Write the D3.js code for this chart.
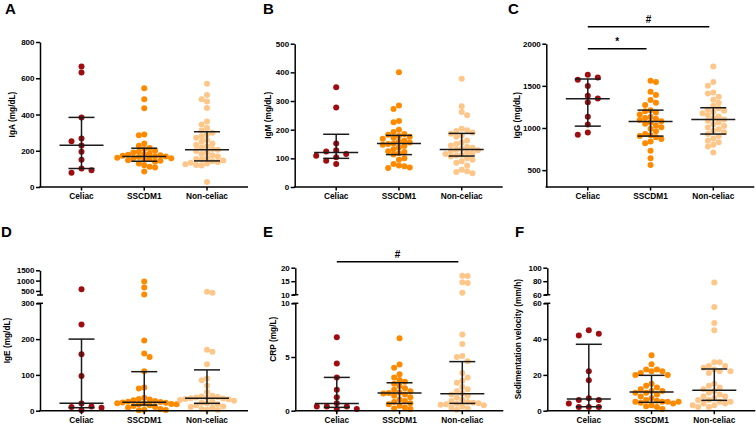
<!DOCTYPE html>
<html>
<head>
<meta charset="utf-8">
<script src="https://cdn.jsdelivr.net/npm/d3@7"></script>
<style>
  body { margin: 0; background: #fff; }
  svg { display: block; font-family: "Liberation Sans", Arial, sans-serif; font-weight: bold; }
</style>
</head>
<body>
<svg id="chart" width="756" height="425"></svg>
<script>
// groups shared by all six panels
const groups = ['Celiac', 'SSCDM1', 'Non-celiac'];
const groupColors = ['#a00d10', '#ff8a00', '#ffc689'];

// A - IgA
const igaCeliac = [665, 632, 384, 268, 253, 229, 194, 151, 102, 92, 79];
const igaSscdm1 = [545, 484, 434, 290, 285, 240, 228, 215, 210, 200, 195, 190, 185, 180, 178, 175, 172, 170, 168, 165, 162, 160, 158, 155, 150, 148, 145, 140, 130, 120, 112, 108, 85];
const igaNonceliac = [570, 508, 484, 472, 436, 362, 345, 325, 312, 300, 290, 280, 272, 260, 250, 240, 232, 225, 218, 210, 205, 198, 190, 182, 175, 168, 160, 155, 150, 146, 142, 138, 134, 130, 126, 122, 118, 28];
const igaMedian = [230, 168, 205];
const igaQ1 = [102, 142, 144];
const igaQ3 = [384, 214, 305];
const igaTicks = [0, 200, 400, 600, 800];

// B - IgM
const igmCeliac = [348, 277, 152, 128, 124, 115, 109, 104, 92, 80];
const igmSscdm1 = [400, 284, 272, 230, 226, 200, 192, 185, 182, 178, 175, 172, 168, 162, 158, 155, 152, 150, 147, 143, 138, 132, 125, 122, 118, 113, 100, 95, 80, 75, 72, 68, 66];
const igmNonceliac = [378, 282, 262, 250, 203, 198, 195, 190, 186, 180, 175, 162, 155, 150, 145, 140, 137, 133, 130, 128, 125, 120, 118, 115, 112, 110, 106, 100, 95, 90, 85, 75, 60, 55, 52, 48];
const igmMedian = [120, 152, 131];
const igmQ1 = [100, 113, 108];
const igmQ3 = [184, 180, 187];
const igmTicks = [0, 100, 200, 300, 400, 500];

// C - IgG
const iggCeliac = [1632, 1600, 1573, 1497, 1383, 1351, 1304, 1133, 1042, 947, 920];
const iggSscdm1 = [1561, 1545, 1430, 1390, 1331, 1300, 1272, 1210, 1200, 1185, 1160, 1130, 1120, 1110, 1095, 1080, 1065, 1050, 1030, 1010, 990, 960, 930, 915, 905, 890, 870, 840, 820, 730, 640, 560];
const iggNonceliac = [1731, 1545, 1501, 1422, 1410, 1371, 1335, 1300, 1265, 1235, 1220, 1205, 1190, 1175, 1155, 1135, 1115, 1100, 1085, 1065, 1045, 1025, 1005, 985, 965, 950, 930, 905, 875, 850, 830, 800, 780, 710];
const iggMedian = [1347, 1078, 1102];
const iggQ1 = [1022, 904, 928];
const iggQ3 = [1581, 1212, 1240];
const iggTicks = [500, 1000, 1500, 2000];
const iggSig = [{ from: 0, to: 2, label: '#' }, { from: 0, to: 1, label: '*' }];

// D - IgE (broken axis)
const igeCeliac = [582, 241, 158, 97, 20, 12, 10, 8, 1];
const igeSscdm1 = [960, 665, 330, 196, 160, 150, 110, 65, 62, 36, 33, 31, 29, 27, 25, 24, 23, 22, 21, 20, 19, 18, 17, 15, 13, 10, 8, 5, 3, 2, 1];
const igeNonceliac = [460, 410, 170, 165, 130, 90, 85, 70, 52, 42, 40, 38, 37, 36, 35, 34, 33, 32, 30, 28, 25, 22, 20, 18, 15, 12, 10, 8, 5, 3, 2];
const igeMedian = [20.5, 23.3, 34.5];
const igeQ1 = [8.4, 15.8, 20.5];
const igeQ3 = [200, 109, 114];
const igeTicksLow = [0, 100, 200, 300];
const igeTicksHigh = [500, 1000, 1500];

// E - CRP (broken axis)
const crpCeliac = [6.85, 4.4, 3.1, 1.95, 1.25, 0.7, 0.4, 0.4, 0.4, 0.15, 0.15];
const crpSscdm1 = [6.75, 4.3, 4.0, 3.4, 3.1, 2.85, 2.7, 2.5, 2.3, 2.1, 1.95, 1.8, 1.7, 1.65, 1.6, 1.5, 1.4, 1.25, 1.05, 0.9, 0.8, 0.7, 0.6, 0.45, 0.3, 0.2, 0.15];
const crpNonceliac = [17.0, 16.9, 14.6, 14.3, 10.7, 7.1, 6.2, 5.1, 5.0, 4.6, 3.5, 3.1, 2.8, 2.6, 2.2, 2.0, 1.8, 1.6, 1.5, 1.4, 1.2, 1.0, 0.9, 0.8, 0.75, 0.7, 0.65, 0.6, 0.55, 0.5, 0.4, 0.3, 0.2, 0.1];
const crpMedian = [0.68, 1.65, 1.58];
const crpQ1 = [0.31, 0.68, 0.68];
const crpQ3 = [3.1, 2.6, 4.57];
const crpTicksLow = [0, 5, 10];
const crpTicksHigh = [10, 15, 20];
const crpSig = [{ from: 0, to: 2, label: '#' }];

// F - sedimentation velocity (broken axis)
const sedCeliac = [45, 43, 42, 22, 17, 7, 6, 6, 4, 2, 2, 2];
const sedSscdm1 = [31, 26, 23, 23, 22, 22, 21, 20, 20, 15, 14, 13, 12, 11, 11, 10, 10, 9, 8, 7, 6, 5.5, 5, 5, 5, 5, 4.5, 4, 3, 2.5, 2, 1];
const sedNonceliac = [78, 58, 49, 45, 27, 27, 25, 25, 24, 23, 22, 22, 21, 15, 14, 13, 12, 11, 10, 9, 8, 8, 7, 6, 6, 5, 5, 4, 4, 3, 3, 2, 2];
const sedMedian = [6.5, 10.4, 11.4];
const sedQ1 = [2.2, 4.7, 5.8];
const sedQ3 = [37.1, 19.75, 23.3];
const sedTicksLow = [0, 20, 40, 60];
const sedTicksHigh = [60, 80, 100];

// layout of the six panels
const panels = [
  { letter: 'A', lx: 5, ly: 14, ax: 40, base: 187, title: 'IgA (mg/dL)', tx: 12,
    values: [igaCeliac, igaSscdm1, igaNonceliac], med: igaMedian, q1: igaQ1, q3: igaQ3,
    segs: [{ domain: [0, 800], range: [187, 42], ticks: igaTicks }] },
  { letter: 'B', lx: 263, ly: 14, ax: 294.7, base: 187, title: 'IgM (mg/dL)', tx: 268,
    values: [igmCeliac, igmSscdm1, igmNonceliac], med: igmMedian, q1: igmQ1, q3: igmQ3,
    segs: [{ domain: [0, 500], range: [187, 43.7], ticks: igmTicks }] },
  { letter: 'C', lx: 508, ly: 14, ax: 546.3, base: 187, title: 'IgG (mg/dL)', tx: 517,
    values: [iggCeliac, iggSscdm1, iggNonceliac], med: iggMedian, q1: iggQ1, q3: iggQ3,
    segs: [{ domain: [300, 2000], range: [187, 43.7], ticks: iggTicks }],
    sig: iggSig, sigY: [26.7, 48.7] },
  { letter: 'D', lx: 1, ly: 237, ax: 40, base: 410.7, title: 'IgE (mg/dL)', tx: 7,
    values: [igeCeliac, igeSscdm1, igeNonceliac], med: igeMedian, q1: igeQ1, q3: igeQ3,
    segs: [{ domain: [0, 300], range: [410.7, 303.3], ticks: igeTicksLow },
           { domain: [300, 1500], range: [295, 270.3], ticks: igeTicksHigh }] },
  { letter: 'E', lx: 263, ly: 237, ax: 295.3, base: 410.7, title: 'CRP (mg/L)', tx: 273,
    values: [crpCeliac, crpSscdm1, crpNonceliac], med: crpMedian, q1: crpQ1, q3: crpQ3,
    segs: [{ domain: [0, 10], range: [410.7, 303.3], ticks: crpTicksLow },
           { domain: [10, 20], range: [294.7, 267.7], ticks: crpTicksHigh }],
    sig: crpSig, sigY: [261.7] },
  { letter: 'F', lx: 515, ly: 237, ax: 547.3, base: 410.7, title: 'Sedimentation velocity (mm/h)', tx: 518,
    values: [sedCeliac, sedSscdm1, sedNonceliac], med: sedMedian, q1: sedQ1, q3: sedQ3,
    segs: [{ domain: [0, 60], range: [410.7, 303.3], ticks: sedTicksLow },
           { domain: [60, 100], range: [294.7, 267.7], ticks: sedTicksHigh }] }
];

const svg = d3.select('#chart');
const R = 3;

// greedy beeswarm: each point goes to the nearest free horizontal slot
function swarm(values, yPos, step, minDist) {
  const placed = [];
  values.slice().sort((a, b) => b - a).forEach((v, i) => {
    const y = yPos(v);
    const flip = i % 2 ? 1 : -1;
    for (let k = 0; k < 60; k++) {
      const n = Math.ceil(k / 2);
      const dx = (k % 2 ? flip : -flip) * n * step;
      if (placed.every(p => Math.hypot(p.dx - dx, p.y - y) >= minDist)) {
        placed.push({ v, y, dx });
        break;
      }
    }
  });
  return placed;
}

panels.forEach(p => {
  const g = svg.append('g');

  const x = d3.scalePoint().domain(groups).range([p.ax + 41.5, p.ax + 167]);
  const scales = p.segs.map(s => d3.scaleLinear().domain(s.domain).range(s.range));
  const yPos = v => (scales.length > 1 && v > p.segs[0].domain[1]) ? scales[1](v) : scales[0](v);

  // panel letter
  g.append('text')
    .attr('x', p.lx).attr('y', p.ly)
    .attr('font-size', 15)
    .text(p.letter);

  // points
  p.values.forEach((vals, gi) => {
    const pts = gi === 0 ? swarm(vals, yPos, 10, 5.8) : swarm(vals, yPos, 5.4, 5.4);
    g.append('g').selectAll('circle')
      .data(pts)
      .enter()
      .append('circle')
      .attr('cx', d => x(groups[gi]) + d.dx)
      .attr('cy', d => d.y)
      .attr('r', R)
      .attr('fill', groupColors[gi]);
  });

  // median with interquartile range
  groups.forEach((grp, gi) => {
    const cx = x(grp);
    const bar = g.append('g').attr('stroke', '#1a1a1a').attr('stroke-width', 1.5);
    bar.append('line').attr('x1', cx).attr('x2', cx)
      .attr('y1', yPos(p.q1[gi])).attr('y2', yPos(p.q3[gi]));
    [p.q1[gi], p.q3[gi]].forEach(q => {
      bar.append('line').attr('x1', cx - 13).attr('x2', cx + 13)
        .attr('y1', yPos(q)).attr('y2', yPos(q));
    });
    bar.append('line').attr('x1', cx - 22).attr('x2', cx + 22)
      .attr('y1', yPos(p.med[gi])).attr('y2', yPos(p.med[gi]));
  });

  // y axis segments
  p.segs.forEach((s, si) => {
    const ax = g.append('g')
      .attr('transform', `translate(${p.ax},0)`)
      .call(d3.axisLeft(scales[si]).tickValues(s.ticks).tickFormat(d3.format('d'))
        .tickSize(4).tickSizeOuter(0).tickPadding(1.5));
    ax.selectAll('path, line').attr('stroke', '#000').attr('stroke-width', 1.5);
    ax.selectAll('text').attr('font-size', 8).attr('font-weight', 'bold')
      .attr('font-family', '"Liberation Sans", Arial, sans-serif').attr('fill', '#000');
    if (p.segs.length > 1) {
      // break caps
      const capY = si === 0 ? s.range[1] : s.range[0];
      ax.append('line').attr('x1', -3).attr('x2', 3)
        .attr('y1', capY).attr('y2', capY)
        .attr('stroke', '#000').attr('stroke-width', 1.5);
    }
  });

  // x axis
  const xa = g.append('g');
  xa.append('line').attr('x1', p.ax - 0.75).attr('x2', p.ax + 208)
    .attr('y1', p.base).attr('y2', p.base)
    .attr('stroke', '#000').attr('stroke-width', 1.5);
  groups.forEach(grp => {
    xa.append('line').attr('x1', x(grp)).attr('x2', x(grp))
      .attr('y1', p.base).attr('y2', p.base + 3.5)
      .attr('stroke', '#000').attr('stroke-width', 1.5);
    xa.append('text')
      .attr('x', x(grp)).attr('y', p.base + 12.3)
      .attr('text-anchor', 'middle')
      .attr('font-size', 8.3)
      .text(grp);
  });

  // y title
  const yTop = p.segs[p.segs.length - 1].range[1];
  const yMid = (yTop + p.base) / 2;
  g.append('text')
    .attr('transform', `translate(${p.tx},${yMid}) rotate(-90)`)
    .attr('text-anchor', 'middle')
    .attr('dy', '0.35em')
    .attr('font-size', 8.3)
    .text(p.title);

  // significance bars
  if (p.sig) {
    p.sig.forEach((s, i) => {
      const y0 = p.sigY[i];
      const x1 = x(groups[s.from]), x2 = x(groups[s.to]) - 4;
      g.append('line').attr('x1', x1).attr('x2', x2)
        .attr('y1', y0).attr('y2', y0)
        .attr('stroke', '#000').attr('stroke-width', 1.5);
      g.append('text')
        .attr('x', (x1 + x2) / 2).attr('y', y0 - 4)
        .attr('text-anchor', 'middle')
        .attr('font-size', 10)
        .text(s.label);
    });
  }
});
</script>
</body>
</html>
